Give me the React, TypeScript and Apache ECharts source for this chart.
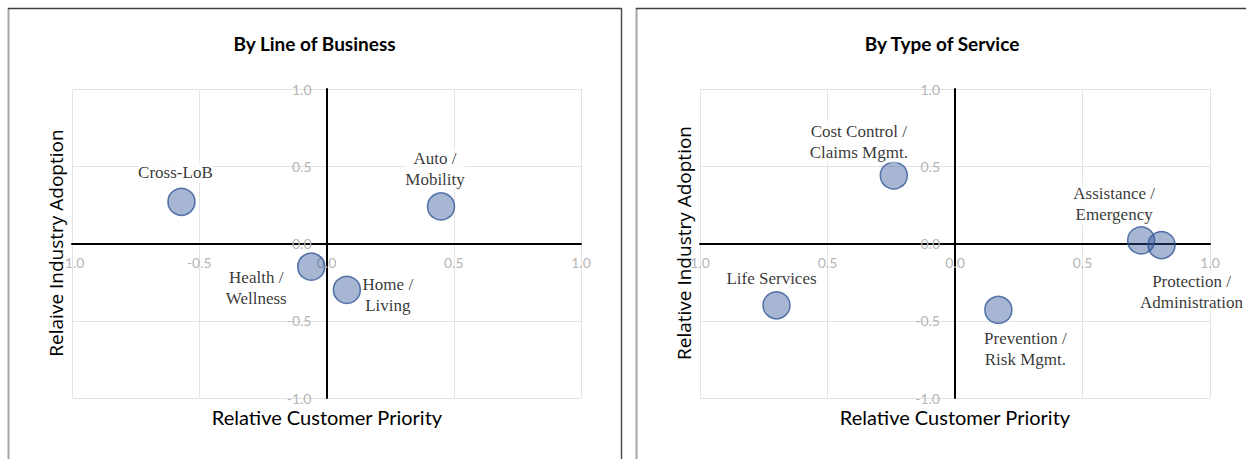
import React, { useEffect, useRef } from "react";
import * as echarts from "echarts";

// ---- Data ----
const lobNames = ["Cross-LoB", "Auto / Mobility", "Health / Wellness", "Home / Living"];
const lobPriority = [-0.57, 0.45, -0.06, 0.08];
const lobAdoption = [0.27, 0.24, -0.15, -0.30];

const svcNames = [
  "Cost Control / Claims Mgmt.",
  "Life Services",
  "Prevention / Risk Mgmt.",
  "Assistance / Emergency",
  "Protection / Administration",
];
const svcPriority = [-0.24, -0.70, 0.17, 0.73, 0.81];
const svcAdoption = [0.44, -0.40, -0.43, 0.02, -0.01];

const axisTicks = [-1, -0.5, 0, 0.5, 1];

const panelTitles = ["By Line of Business", "By Type of Service"];
const xTitles = ["Relative Customer Priority", "Relative Customer Priority"];
const yTitles = ["Relaive Industry Adoption", "Relative Industry Adoption"];

// ---- Label placement (style, not data) ----
const labelOffsets: Record<string, [number, number]> = {
  "Cross-LoB": [-6, -29],
  "Auto / Mobility": [-6, -37],
  "Health / Wellness": [-55, 21],
  "Home / Living": [41, 5],
  "Cost Control / Claims Mgmt.": [-35, -34],
  "Life Services": [-5, -27],
  "Prevention / Risk Mgmt.": [27, 39],
  "Assistance / Emergency": [-27, -36],
  "Protection / Administration": [30, 47],
};

const tickMin = axisTicks[0];
const tickMax = axisTicks[axisTicks.length - 1];
const tickStep = axisTicks[1] - axisTicks[0];

const GRID_H = 309;
const GRID_W = [509, 510];

function buildPoints(names: string[], xs: number[], ys: number[]) {
  return names.map((n, i) => ({
    name: n,
    value: [xs[i], ys[i]],
    label: { offset: labelOffsets[n] || [0, 0] },
  }));
}

const labelFont = {
  fontFamily: "'Liberation Serif', 'DejaVu Serif', serif",
  fontSize: 17,
  lineHeight: 21,
  color: "#000",
};

function valueAxis(gridIndex: number, absLabels: boolean, isX: boolean) {
  // labels sit next to the zero lines (quadrant chart), not at the grid edge
  const margin = isX ? -(GRID_H / 2) + 12 : -(GRID_W[gridIndex] / 2) + 15;
  return {
    type: "value",
    gridIndex,
    min: tickMin,
    max: tickMax,
    interval: tickStep,
    axisLine: { show: true, onZero: true, lineStyle: { color: "#000", width: 2 } },
    axisTick: { show: false },
    axisLabel: {
      color: "#b5b5b5",
      fontFamily: "Lato, 'Open Sans', sans-serif",
      fontSize: 14,
      margin,
      hideOverlap: false,
      formatter: (v: number) => (absLabels ? Math.abs(v) : v).toFixed(1),
    },
    splitLine: { show: true, lineStyle: { color: "#e3e3e3", width: 1 } },
    z: 1,
  };
}

function scatterSeries(idx: number, names: string[], xs: number[], ys: number[]) {
  return {
    type: "scatter",
    xAxisIndex: idx,
    yAxisIndex: idx,
    symbol: "circle",
    symbolSize: 27,
    itemStyle: {
      color: "rgba(47,85,151,0.53)",
      borderColor: "#2F5597",
      borderWidth: 1.5,
    },
    label: {
      show: true,
      position: "inside",
      align: "center",
      verticalAlign: "middle",
      backgroundColor: "#fff",
      padding: 0,
      formatter: (p: any) => String(p.name).replace(" / ", " /\n"),
      ...labelFont,
    },
    emphasis: { disabled: true },
    data: buildPoints(names, xs, ys),
    z: 3,
  };
}

function txt(text: string, x: number, y: number, font: string, rotation = 0, fill = "#000") {
  return {
    type: "text",
    x,
    y,
    rotation,
    style: {
      text,
      fill,
      font,
      textAlign: "center",
      textVerticalAlign: "middle",
      align: "center",
      verticalAlign: "middle",
    },
    z: 10,
  };
}

function line(x1: number, y1: number, x2: number, y2: number, color: string, width: number) {
  return {
    type: "line",
    shape: { x1, y1, x2, y2 },
    style: { stroke: color, lineWidth: width },
    z: 10,
  };
}

export default function App() {
  const ref = useRef<HTMLDivElement>(null);

  useEffect(() => {
    if (!ref.current) return;
    const chart = echarts.init(ref.current, undefined, { renderer: "svg" });
    const titleFont = "bold 19px Lato, 'Open Sans', sans-serif";
    const xTitleFont = "20px Lato, 'Open Sans', sans-serif";
    const yTitleFont = "19px 'Open Sans', Lato, sans-serif";
    chart.setOption({
      animation: false,
      backgroundColor: "#fff",
      grid: [
        { left: 72, top: 89, width: GRID_W[0], height: GRID_H, containLabel: false },
        { left: 700, top: 89, width: GRID_W[1], height: GRID_H, containLabel: false },
      ],
      xAxis: [valueAxis(0, false, true), valueAxis(1, true, true)],
      yAxis: [valueAxis(0, false, false), valueAxis(1, false, false)],
      series: [
        scatterSeries(0, lobNames, lobPriority, lobAdoption),
        scatterSeries(1, svcNames, svcPriority, svcAdoption),
      ],
      graphic: [
        // panel borders
        line(8.5, 8, 8.5, 459, "#a6a6a6", 2),
        line(8, 8.5, 621.5, 8.5, "#404040", 1.5),
        line(621.5, 8, 621.5, 459, "#505050", 1.5),
        line(636.5, 8, 636.5, 459, "#a6a6a6", 2),
        line(636, 8.5, 1246, 8.5, "#404040", 1.5),
        // titles
        txt(panelTitles[0], 314.5, 43, titleFont),
        txt(panelTitles[1], 942, 43, titleFont),
        txt(xTitles[0], 327, 417, xTitleFont),
        txt(xTitles[1], 955, 417, xTitleFont),
        txt(yTitles[0], 56, 243, yTitleFont, Math.PI / 2),
        txt(yTitles[1], 684, 243, yTitleFont, Math.PI / 2),
      ],
    });
    return () => chart.dispose();
  }, []);

  return (
    <div
      ref={ref}
      style={{ position: "absolute", left: 0, top: 0, width: 1247, height: 459 }}
    />
  );
}
